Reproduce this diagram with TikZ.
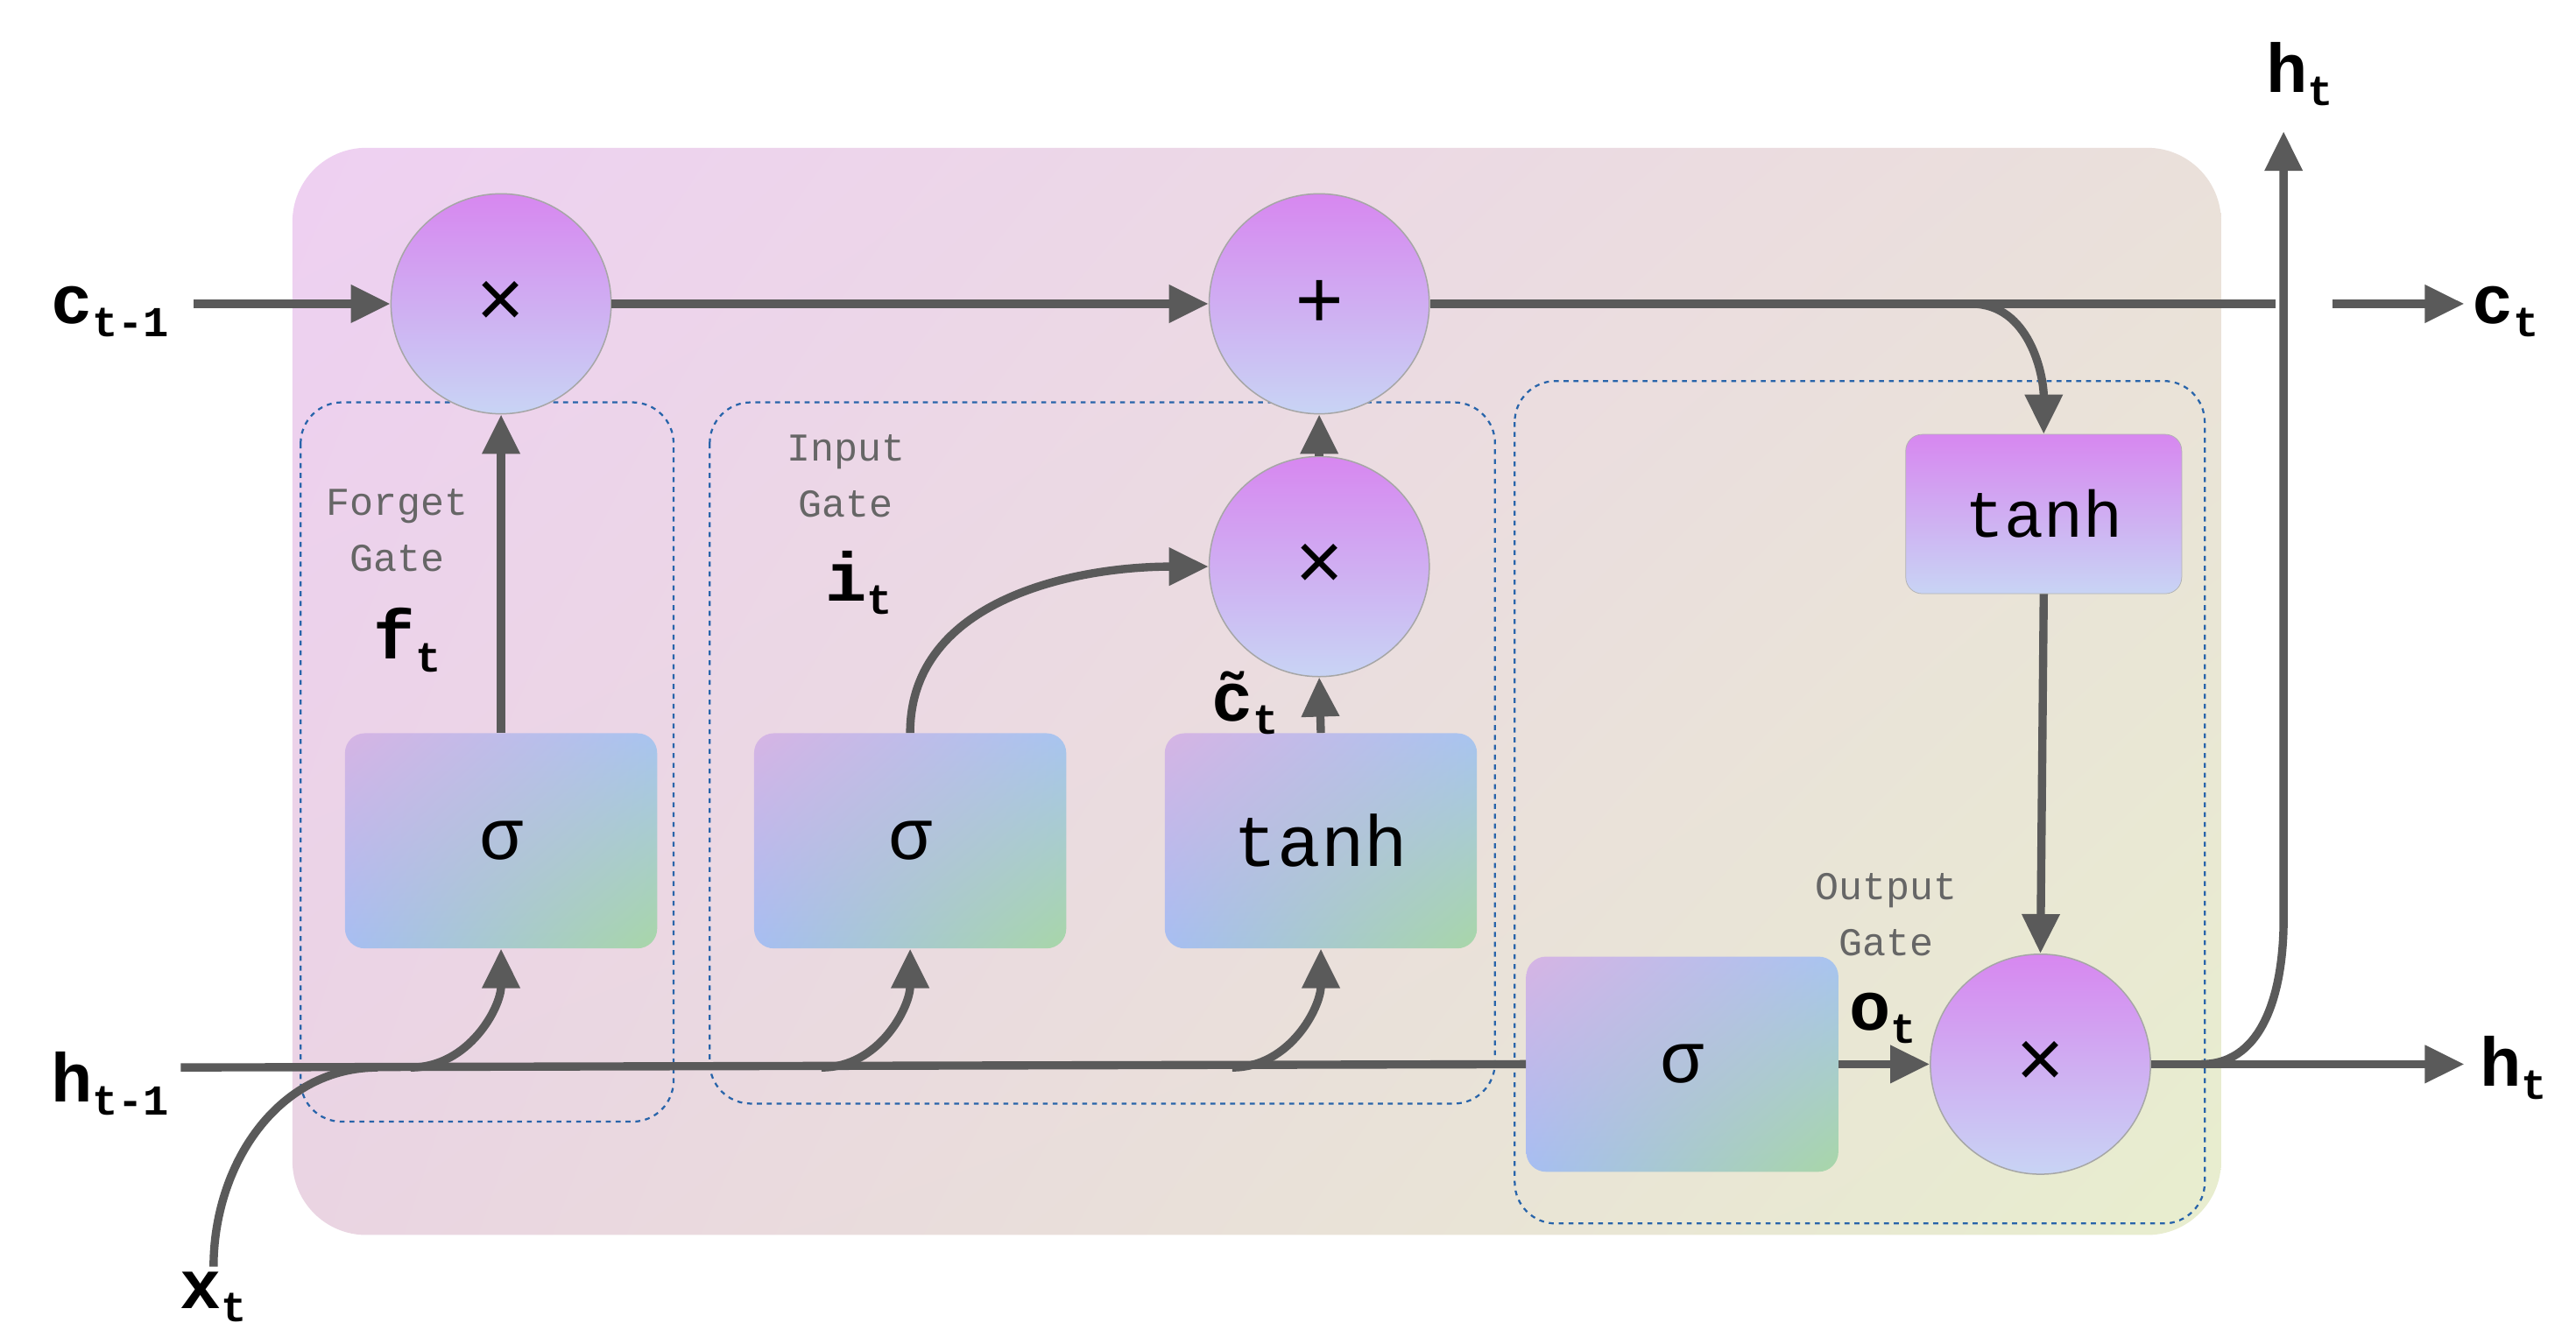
\documentclass[tikz,border=0pt]{standalone}
\usepackage{fontspec}
\setmainfont{Liberation Mono}
\usetikzlibrary{arrows.meta,shapes.geometric,shadings}
\definecolor{ln}{HTML}{5A5A5A}
\definecolor{bgA}{RGB}{238,208,242}
\definecolor{bgB}{RGB}{234,224,218}
\definecolor{bgC}{RGB}{234,212,226}
\definecolor{bgD}{RGB}{232,238,206}
\definecolor{gA}{RGB}{214,180,228}
\definecolor{gB}{RGB}{168,196,240}
\definecolor{gC}{RGB}{166,190,242}
\definecolor{gD}{RGB}{168,214,168}
\definecolor{cA}{RGB}{215,135,240}
\definecolor{cB}{RGB}{200,212,244}
\definecolor{dsh}{RGB}{40,100,170}
\tikzset{
 x=1pt,y=-1pt,
 ar/.style={draw=ln,line width=5pt,-{Triangle[length=24pt,width=22pt]}},
 pl/.style={draw=ln,line width=5pt},
 circ/.style={circle,minimum size=134pt,draw=gray!70,line width=0.8pt,shading=axis,shading angle=135,top color=cA,bottom color=cB,font=\fontsize{50}{54}\selectfont},
 gbox/.style={rounded corners=12pt,minimum width=190pt,minimum height=131pt,upper left=gA,upper right=gB,lower left=gC,lower right=gD,font=\fontsize{44}{50}\selectfont},
 dbox/.style={draw=dsh,dashed,line width=1.2pt,rounded corners=25pt},
 lab/.style={font=\fontsize{42}{44}\bfseries\selectfont,text=black},
 glab/.style={font=\fontsize{24}{34}\selectfont,text=gray!80!black,align=center},
}
\newcommand{\sbs}[1]{\raisebox{-8pt}{\fontsize{26}{28}\selectfont #1}}
\begin{document}
\begin{tikzpicture}
\useasboundingbox (0,0) rectangle (1568,818);
\fill[white] (0,0) rectangle (1568,818);
\shade[rounded corners=45pt,upper left=bgA,upper right=bgB,lower left=bgC,lower right=bgD] (178,90) rectangle (1352,752);
% dashed gates
\draw[dbox] (183,245) rectangle (410,683);
\draw[dbox] (432,245) rectangle (910,672);
\draw[dbox] (922,232) rectangle (1342,745);
% nodes
\node[circ] (f) at (305,185) {×};
\node[circ] (p) at (803,185) {+};
\node[circ] (m) at (803,345) {×};
\node[circ] (o) at (1242,648) {×};
\node[gbox] (sf) at (305,512) {σ};
\node[gbox] (si) at (554,512) {σ};
\node[gbox] (tc) at (804,512) {tanh};
\node[gbox] (so) at (1024,648) {σ};
\node[rounded corners=10pt,minimum width=168pt,minimum height=97pt,draw=gray!60,shading=axis,shading angle=135,top color=cA,bottom color=cB,font=\fontsize{40}{44}\selectfont] (th) at (1244,313) {tanh};
% labels
\node[lab] (ct1) at (67,190) {c\sbs{t-1}};
\node[lab] (ht1) at (67,660) {h\sbs{t-1}};
\node[lab] (xt) at (130,790) {x\sbs{t}};
\node[lab] (ct) at (1525,190) {c\sbs{t}};
\node[lab] (htr) at (1530,650) {h\sbs{t}};
\node[lab] (htt) at (1400,45) {h\sbs{t}};
\node[lab] at (248,390) {f\sbs{t}};
\node[lab] at (523,355) {i\sbs{t}};
\node[lab] at (758,428) {\~{c}\sbs{t}};
\node[lab] at (1146,620) {o\sbs{t}};
\node[glab] at (242,323) {Forget\\Gate};
\node[glab] at (515,290) {Input\\Gate};
\node[glab] at (1148,557) {Output\\Gate};
% connectors
\coordinate (cin) at (118,185);
\coordinate (cend) at (1385,185);
\coordinate (cs) at (1420,185);
\coordinate (cout) at (1500,185);
\draw[ar] (cin) -- (f.west);
\draw[ar] (f.east) -- (p.west);
\draw[pl] (p.east) -- (cend);
\draw[ar] (cs) -- (cout);
\draw[ar] (1200,185) to[out=0,in=90] (th.north);
\draw[ar] (th.south) -- (o.north);
\draw[ar] (m.north) -- (p.south);
\draw[ar] (sf.north) -- (f.south);
\draw[ar] (tc.north) -- (m.south);
\draw[ar] (si.north) to[out=90,in=180] (m.west);
\coordinate (hl) at (110,650);
\draw[pl] (hl) -- (so.west);
\draw[pl] (xt.north) to[out=90,in=180] (230,650);
\draw[ar] (250,650) to[out=0,in=-90] (sf.south);
\draw[ar] (500,650) to[out=0,in=-90] (si.south);
\draw[ar] (750,650) to[out=0,in=-90] (tc.south);
\draw[ar] (so.east) -- (o.west);
\coordinate (hout) at (1500,648);
\draw[ar] (o.east) -- (hout);
\coordinate (hup) at (1390,80);
\draw[ar] (1340,648) to[out=0,in=-90] (1390,560) -- (hup);
\end{tikzpicture}
\end{document}
